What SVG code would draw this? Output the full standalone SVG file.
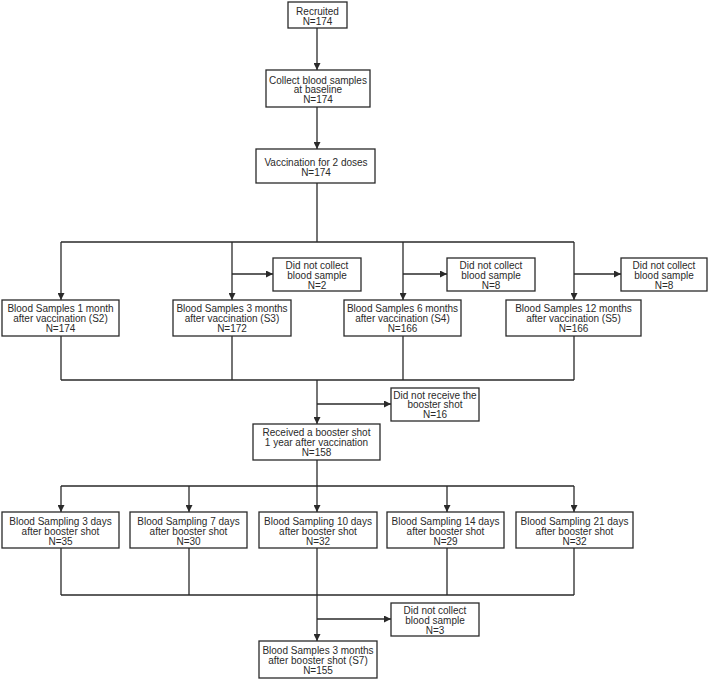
<svg xmlns="http://www.w3.org/2000/svg" width="709" height="679" viewBox="0 0 709 679">
<style>
.b{fill:#fff;stroke:#2a2a2a;stroke-width:1.3}
text{font-family:"Liberation Sans",Arial,sans-serif;font-size:10px;fill:#2a2a2a;text-anchor:middle}
.c{fill:none;stroke:#2a2a2a;stroke-width:1.3}
</style>
<defs>
<marker id="a" viewBox="0 0 10 10" refX="10" refY="5" markerWidth="8" markerHeight="7" markerUnits="userSpaceOnUse" orient="auto"><path d="M0,0L10,5L0,10z" fill="#2a2a2a"/></marker>
</defs>
<rect width="709" height="679" fill="#fff"/>
<g id="connectors">
<path class="c" d="M317,28V70" marker-end="url(#a)"/>
<path class="c" d="M317,107V149" marker-end="url(#a)"/>
<path class="c" d="M317,183V242M61,242H574"/>
<path class="c" d="M61,242V300" marker-end="url(#a)"/>
<path class="c" d="M232,242V300" marker-end="url(#a)"/>
<path class="c" d="M403,242V300" marker-end="url(#a)"/>
<path class="c" d="M574,242V300" marker-end="url(#a)"/>
<path class="c" d="M232,274H273" marker-end="url(#a)"/>
<path class="c" d="M403,274H447" marker-end="url(#a)"/>
<path class="c" d="M574,274H621" marker-end="url(#a)"/>
<path class="c" d="M61,336V380M232,336V380M403,336V380M574,336V380M61,380H574"/>
<path class="c" d="M317,380V424" marker-end="url(#a)"/>
<path class="c" d="M317,404H391" marker-end="url(#a)"/>
<path class="c" d="M317,460V486M61,486H574"/>
<path class="c" d="M61,486V512" marker-end="url(#a)"/>
<path class="c" d="M189,486V512" marker-end="url(#a)"/>
<path class="c" d="M317,486V512" marker-end="url(#a)"/>
<path class="c" d="M447,486V512" marker-end="url(#a)"/>
<path class="c" d="M574,486V512" marker-end="url(#a)"/>
<path class="c" d="M61,548V595M189,548V595M447,548V595M574,548V595M61,595H574"/>
<path class="c" d="M317,548V641" marker-end="url(#a)"/>
<path class="c" d="M317,619H391" marker-end="url(#a)"/>
</g>
<g id="recruited"><rect class="b" x="288" y="2" width="59" height="26"/><text x="317.5" y="14.5">Recruited</text><text x="317.5" y="25">N=174</text></g>
<g id="baseline"><rect class="b" x="266" y="70" width="104" height="37"/><text x="318" y="83.5">Collect blood samples</text><text x="318" y="93">at baseline</text><text x="318" y="102.5">N=174</text></g>
<g id="vaccination"><rect class="b" x="256" y="149" width="119" height="34"/><text x="316" y="165.5">Vaccination for 2 doses</text><text x="316" y="175.5">N=174</text></g>
<g id="s2"><rect class="b" x="2" y="300" width="117" height="36"/><text x="60.5" y="311.5">Blood Samples 1 month</text><text x="60.5" y="321.5">after vaccination (S2)</text><text x="60.5" y="331.5">N=174</text></g>
<g id="s3"><rect class="b" x="173" y="300" width="118" height="36"/><text x="232" y="311.5">Blood Samples 3 months</text><text x="232" y="321.5">after vaccination (S3)</text><text x="232" y="331.5">N=172</text></g>
<g id="s4"><rect class="b" x="344" y="300" width="117" height="36"/><text x="402.5" y="311.5">Blood Samples 6 months</text><text x="402.5" y="321.5">after vaccination (S4)</text><text x="402.5" y="331.5">N=166</text></g>
<g id="s5"><rect class="b" x="506" y="300" width="135" height="36"/><text x="573.5" y="311.5">Blood Samples 12 months</text><text x="573.5" y="321.5">after vaccination (S5)</text><text x="573.5" y="331.5">N=166</text></g>
<g id="dnc1"><rect class="b" x="273" y="258" width="88" height="33"/><text x="317" y="268.5">Did not collect</text><text x="317" y="278.5">blood sample</text><text x="317" y="288.5">N=2</text></g>
<g id="dnc2"><rect class="b" x="447" y="258" width="88" height="33"/><text x="491" y="268.5">Did not collect</text><text x="491" y="278.5">blood sample</text><text x="491" y="288.5">N=8</text></g>
<g id="dnc3"><rect class="b" x="621" y="258" width="86" height="33"/><text x="664" y="268.5">Did not collect</text><text x="664" y="278.5">blood sample</text><text x="664" y="288.5">N=8</text></g>
<g id="noboost"><rect class="b" x="391" y="388" width="88" height="33"/><text x="435" y="398.5">Did not receive the</text><text x="435" y="408">booster shot</text><text x="435" y="417.5">N=16</text></g>
<g id="booster"><rect class="b" x="253" y="424" width="127" height="36"/><text x="316.5" y="435.5">Received a booster shot</text><text x="316.5" y="446">1 year after vaccination</text><text x="316.5" y="456">N=158</text></g>
<g id="d3"><rect class="b" x="2" y="512" width="117" height="36"/><text x="60.5" y="524.5">Blood Sampling 3 days</text><text x="60.5" y="534.5">after booster shot</text><text x="60.5" y="545">N=35</text></g>
<g id="d7"><rect class="b" x="130" y="512" width="117" height="36"/><text x="188.5" y="524.5">Blood Sampling 7 days</text><text x="188.5" y="534.5">after booster shot</text><text x="188.5" y="545">N=30</text></g>
<g id="d10"><rect class="b" x="259" y="512" width="118" height="36"/><text x="318" y="524.5">Blood Sampling 10 days</text><text x="318" y="534.5">after booster shot</text><text x="318" y="545">N=32</text></g>
<g id="d14"><rect class="b" x="387" y="512" width="117" height="36"/><text x="445.5" y="524.5">Blood Sampling 14 days</text><text x="445.5" y="534.5">after booster shot</text><text x="445.5" y="545">N=29</text></g>
<g id="d21"><rect class="b" x="516" y="512" width="117" height="36"/><text x="574.5" y="524.5">Blood Sampling 21 days</text><text x="574.5" y="534.5">after booster shot</text><text x="574.5" y="545">N=32</text></g>
<g id="dnc4"><rect class="b" x="391" y="603" width="88" height="33"/><text x="435" y="613.5">Did not collect</text><text x="435" y="623.5">blood sample</text><text x="435" y="633.5">N=3</text></g>
<g id="s7"><rect class="b" x="259" y="641" width="118" height="37"/><text x="318" y="653.5">Blood Samples 3 months</text><text x="318" y="663.5">after booster shot (S7)</text><text x="318" y="673.5">N=155</text></g>
</svg>
